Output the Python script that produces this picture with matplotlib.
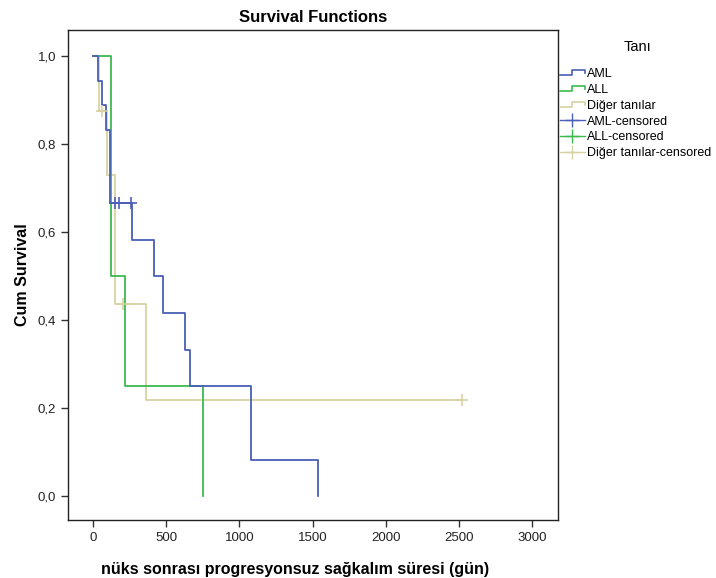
import matplotlib
matplotlib.use("Agg")
import matplotlib.pyplot as plt
from matplotlib.lines import Line2D
from matplotlib.legend_handler import HandlerBase

plt.rcParams['font.family'] = ['Liberation Sans', 'DejaVu Sans']

# ---- data ----
aml_times = [0, 32, 61, 89, 118, 269, 419, 480, 630, 660, 1081, 1535]
aml_surv = [1.0, 0.944, 0.889, 0.833, 0.667, 0.583, 0.5, 0.417, 0.333, 0.25, 0.083, 0.0]
aml_cens_t = [148, 176, 258]
aml_cens_s = [0.667, 0.667, 0.667]

all_times = [0, 121, 219, 754]
all_surv = [1.0, 0.5, 0.25, 0.0]
all_cens_t = []
all_cens_s = []

oth_times = [0, 43, 93, 152, 360, 2520]
oth_surv = [1.0, 0.875, 0.729, 0.4375, 0.219, 0.219]
oth_cens_t = [59, 207, 2520]
oth_cens_s = [0.875, 0.4375, 0.219]

groups = ["AML", "ALL", "Diğer tanılar"]
colors = ["#4a5fb5", "#3dba4e", "#d8d2a2"]
xticks = [0, 500, 1000, 1500, 2000, 2500, 3000]
yticks = [0.0, 0.2, 0.4, 0.6, 0.8, 1.0]
ytick_labels = ["0,0", "0,2", "0,4", "0,6", "0,8", "1,0"]

fig = plt.figure(figsize=(7.16, 5.78), dpi=100)
ax = fig.add_axes([0.095, 0.1003, 0.684, 0.8477])

series = [(aml_times, aml_surv, aml_cens_t, aml_cens_s),
          (all_times, all_surv, all_cens_t, all_cens_s),
          (oth_times, oth_surv, oth_cens_t, oth_cens_s)]

order = [2, 1, 0]
for i in order:
    t, s, ct, cs = series[i]
    ax.step(t, s, where='post', color=colors[i], lw=1.3, zorder=2 + (2 - i))
    if ct:
        ax.plot(ct, cs, linestyle='none', marker='+', markersize=8,
                markeredgewidth=1.2, color=colors[i], zorder=5)

ax.set_xlim(-171, 3176)
ax.set_ylim(-0.0545, 1.059)
ax.set_xticks(xticks)
ax.set_xticklabels([str(v) for v in xticks])
ax.set_yticks(yticks)
ax.set_yticklabels(ytick_labels)
ax.tick_params(direction='out', length=5, width=1, labelsize=9.5, colors='#333333',
               labelcolor='#222222')
for sp in ax.spines.values():
    sp.set_color('#222222')
    sp.set_linewidth(1)

ax.set_title("Survival Functions", fontsize=12, fontweight='bold', pad=6)
ax.set_xlabel("nüks sonrası progresyonsuz sağkalım süresi (gün)", fontsize=11.5,
              fontweight='bold')
ax.xaxis.set_label_coords(0.463, -0.085)
ax.set_ylabel("Cum Survival", fontsize=11.5, fontweight='bold')
ax.yaxis.set_label_coords(-0.078, 0.5)


class StepHandler(HandlerBase):
    def create_artists(self, legend, orig_handle, xdescent, ydescent, width,
                       height, fontsize, trans):
        x0, y0 = -xdescent, -ydescent
        xs = [x0, x0 + width * 0.5, x0 + width * 0.5, x0 + width, x0 + width]
        ys = [y0 + height * 0.2, y0 + height * 0.2, y0 + height * 0.8,
              y0 + height * 0.8, y0 + height * 0.45]
        ln = Line2D(xs, ys, color=orig_handle.get_color(), lw=1.2, transform=trans)
        return [ln]


handles = []
labels = []
for i, g in enumerate(groups):
    handles.append(Line2D([], [], color=colors[i]))
    labels.append(g)
for i, g in enumerate(groups):
    h = Line2D([], [], color=colors[i], marker='+', markersize=10, lw=1.0,
               markeredgewidth=1.0)
    handles.append(h)
    labels.append(g + "-censored")

hmap = {h: StepHandler() for h in handles[:3]}
leg = fig.legend(handles, labels, handler_map=hmap, loc='upper left',
                 bbox_to_anchor=(0.782, 1 - 68 / 578), frameon=False, fontsize=9,
                 handlelength=2.0, handletextpad=0.15, labelspacing=0.31,
                 borderaxespad=0, borderpad=0)
fig.text(637 / 716, 1 - 47 / 578, "Tanı", ha='center', va='center', fontsize=10.5)

fig.savefig("out.png", dpi=100)
